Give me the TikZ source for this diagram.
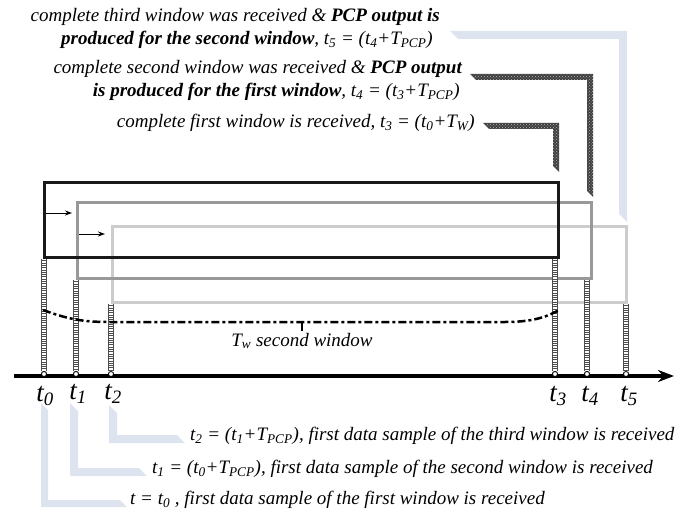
\documentclass[tikz,border=0pt]{standalone}
\usepackage{fontspec}
\setmainfont{Liberation Serif}
\usetikzlibrary{arrows.meta,patterns}
\definecolor{callblue}{RGB}{221,228,240}
\definecolor{wingray}{RGB}{153,153,153}
\definecolor{winlight}{RGB}{204,204,204}
\begin{document}
\begin{tikzpicture}[x=1pt,y=-1pt,
  lbl/.style={font=\fontsize{19}{22}\selectfont\itshape, inner sep=0},
  tlbl/.style={font=\fontsize{27}{31}\selectfont\itshape, inner sep=0},
  win/.style={line width=3},
  ladderline/.style={line width=5.5, draw=black!70, postaction={draw=white, line width=3.6, dash pattern=on 1.3 off 1}},
  bluecall/.style={fill=callblue},
  darkcall/.style={fill=black!75, postaction={pattern=crosshatch dots, pattern color=white!70!black}},
  tick/.style={circle, draw, fill=white, inner sep=0, minimum size=5, line width=0.8},
  shiftarrow/.style={line width=1, -{Stealth[length=7,width=5]}}]
\useasboundingbox (0,0) rectangle (688,516);
% callouts (top)
\path[bluecall] (450,31) -- (627,31) -- (627,222) -- (619,214) -- (619,39) -- (458,39) -- cycle;
\path[darkcall] (470,74) -- (593,74) -- (593,197) -- (587,191) -- (587,80) -- (476,80) -- cycle;
\path[darkcall] (483,123) -- (559,123) -- (559,172) -- (553,166) -- (553,129) -- (489,129) -- cycle;
% callouts (bottom)
\path[bluecall] (41,403) -- (41,507) -- (127,507) -- (120,500) -- (48,500) -- (48,410) -- cycle;
\path[bluecall] (70,403) -- (70,476) -- (147,476) -- (139,468) -- (78,468) -- (78,411) -- cycle;
\path[bluecall] (109,405) -- (109,443) -- (185,443) -- (177,435) -- (117,435) -- (117,413) -- cycle;
% windows
\coordinate (w1a) at (44,182); \coordinate (w1b) at (558,257);
\coordinate (w2a) at (77,202); \coordinate (w2b) at (591,278);
\coordinate (w3a) at (112,226); \coordinate (w3b) at (626,302);
\draw[win, draw=winlight] (w3a) rectangle (w3b);
\draw[win, draw=wingray] (w2a) rectangle (w2b);
\draw[win, draw=black!90] (w1a) rectangle (w1b);
% shift arrows
\coordinate (s1a) at (46,213); \coordinate (s1b) at (72,213);
\coordinate (s2a) at (79,234); \coordinate (s2b) at (105,234);
\draw[shiftarrow] (s1a) -- (s1b);
\draw[shiftarrow] (s2a) -- (s2b);
% ladder tops
\coordinate (l0) at (44,259); \coordinate (l1) at (76,280); \coordinate (l2) at (111,304);
\coordinate (l3) at (555,259); \coordinate (l4) at (587,280); \coordinate (l5) at (626,304);
% axis
\coordinate (ax0) at (14,376); \coordinate (ax1) at (674,376);
\node[tick] (c0) at (44,374) {};
\node[tick] (c1) at (76,374) {};
\node[tick] (c2) at (111,374) {};
\node[tick] (c3) at (555,374) {};
\node[tick] (c4) at (587,374) {};
\node[tick] (c5) at (626,374) {};
\foreach \i in {0,...,5} {\draw[ladderline] (l\i) -- (c\i.north);}
\draw[line width=4, -{Stealth[length=16,width=12]}] (ax0) -- (ax1);
\foreach \i in {0,...,5} {\node[tick] at (c\i) {};}
% window span
\coordinate (d0) at (43,310); \coordinate (d1) at (110,322); \coordinate (d2) at (505,322); \coordinate (d3) at (559,310);
\draw[line width=2.5, dash pattern=on 8 off 3 on 3 off 3] (d0) .. controls (70,320) and (85,322) .. (d1) -- (d2) .. controls (530,322) and (545,318) .. (d3);
\coordinate (tk0) at (302,321); \coordinate (tk1) at (302,331);
\draw[line width=2.5] (tk0) -- (tk1);
\node[lbl] (tw) at (302,341) {T\textsubscript{w} second window};
% axis labels
\node[tlbl] (t0) at (45,396) {t\textsubscript{0}};
\node[tlbl] (t1) at (78,394) {t\textsubscript{1}};
\node[tlbl] (t2) at (113,394) {t\textsubscript{2}};
\node[tlbl] (t3) at (558,396) {t\textsubscript{3}};
\node[tlbl] (t4) at (590,396) {t\textsubscript{4}};
\node[tlbl] (t5) at (629,396) {t\textsubscript{5}};
% top texts
\node[lbl, anchor=east] (n1) at (440,17) {complete third window was received \& \textbf{PCP output is}};
\node[lbl, anchor=east] (n2) at (433,40) {\textbf{produced for the second window}, t\textsubscript{5} = (t\textsubscript{4}+T\textsubscript{PCP})};
\node[lbl, anchor=east] (n3) at (462,69) {complete second window was received \& \textbf{PCP output}};
\node[lbl, anchor=east] (n4) at (460,92) {\textbf{is produced for the first window}, t\textsubscript{4} = (t\textsubscript{3}+T\textsubscript{PCP})};
\node[lbl, anchor=east] (n5) at (475,123) {complete first window is received, t\textsubscript{3} = (t\textsubscript{0}+T\textsubscript{W})};
% bottom texts
\node[lbl, anchor=west] (b2) at (190,436) {t\textsubscript{2} = (t\textsubscript{1}+T\textsubscript{PCP}), first data sample of the third window is received};
\node[lbl, anchor=west] (b1) at (152,469) {t\textsubscript{1} = (t\textsubscript{0}+T\textsubscript{PCP}), first data sample of the second window is received};
\node[lbl, anchor=west] (b0) at (130,500) {t = t\textsubscript{0} , first data sample of the first window is received};
\end{tikzpicture}
\end{document}
